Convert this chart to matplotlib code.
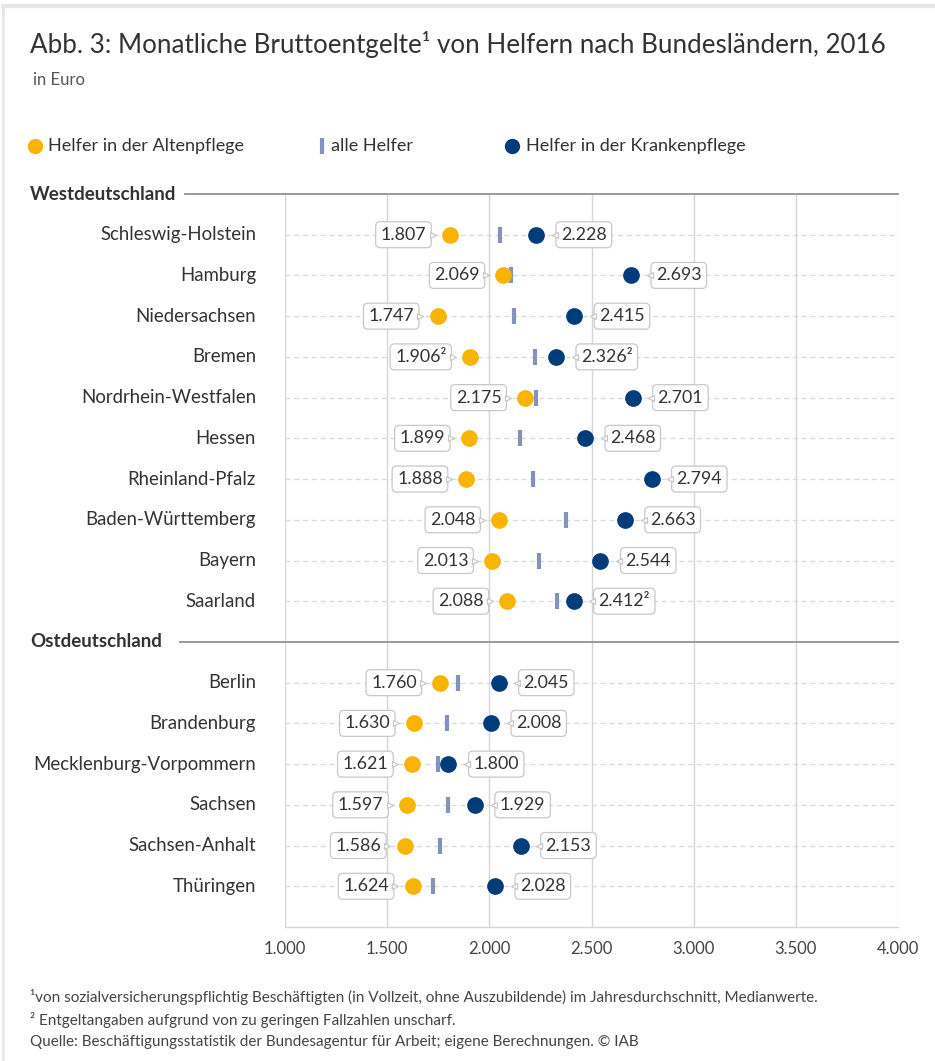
import matplotlib
matplotlib.use("Agg")
import matplotlib.pyplot as plt
from matplotlib.lines import Line2D
from matplotlib.transforms import offset_copy

plt.rcParams['font.family'] = ['Lato', 'DejaVu Sans']

# ---------------- data ----------------
west = ["Schleswig-Holstein", "Hamburg", "Niedersachsen", "Bremen", "Nordrhein-Westfalen",
        "Hessen", "Rheinland-Pfalz", "Baden-Württemberg", "Bayern", "Saarland"]
east = ["Berlin", "Brandenburg", "Mecklenburg-Vorpommern", "Sachsen", "Sachsen-Anhalt", "Thüringen"]

alten_west = [1807, 2069, 1747, 1906, 2175, 1899, 1888, 2048, 2013, 2088]
alten_east = [1760, 1630, 1621, 1597, 1586, 1624]
kranken_west = [2228, 2693, 2415, 2326, 2701, 2468, 2794, 2663, 2544, 2412]
kranken_east = [2045, 2008, 1800, 1929, 2153, 2028]
alle_west = [2054, 2108, 2122, 2225, 2230, 2152, 2216, 2373, 2245, 2333]
alle_east = [1848, 1794, 1750, 1799, 1760, 1725]

# footnote 2 markers (unsharp values)
alten_unscharf = ["Bremen"]
kranken_unscharf = ["Bremen", "Saarland"]

xticks = [1000, 1500, 2000, 2500, 3000, 3500, 4000]
xticklabels = ["1.000", "1.500", "2.000", "2.500", "3.000", "3.500", "4.000"]

# ---------------- styling ----------------
W, H = 935, 1061
YELLOW = "#F8B400"
BLUE = "#003B7A"
BAR = "#8592BE"
TXT = "#333333"
GRID = "#d6d6d6"

def fx(x): return x / W
def fy(y): return 1 - y / H

fig = plt.figure(figsize=(W / 100, H / 100), dpi=100)
fig.patch.set_facecolor("white")

# thin frame lines (top and left)
fig.add_artist(Line2D([fx(3), fx(935)], [fy(6), fy(6)], color="#e6e6e6", lw=3, transform=fig.transFigure))
fig.add_artist(Line2D([fx(3), fx(3)], [fy(6), fy(1061)], color="#e6e6e6", lw=2, transform=fig.transFigure))

# title and subtitle
fig.text(fx(30), fy(45), "Abb. 3: Monatliche Bruttoentgelte¹ von Helfern nach Bundesländern, 2016",
         fontsize=18.7, color=TXT, va="center", ha="left")
fig.text(fx(33), fy(80), "in Euro", fontsize=12, color="#555555", va="center", ha="left")

# legend
ly = fy(146)
fig.add_artist(Line2D([fx(35)], [ly], marker="o", ms=10, color=YELLOW, mec=YELLOW, transform=fig.transFigure))
fig.text(fx(48), ly, "Helfer in der Altenpflege", fontsize=13, color=TXT, va="center")
fig.add_artist(Line2D([fx(322)], [ly], marker="|", ms=12, mew=3, color=BAR, transform=fig.transFigure))
fig.text(fx(331), ly, "alle Helfer", fontsize=13, color=TXT, va="center")
fig.add_artist(Line2D([fx(512)], [ly], marker="o", ms=10, color=BLUE, mec=BLUE, transform=fig.transFigure))
fig.text(fx(526), ly, "Helfer in der Krankenpflege", fontsize=13, color=TXT, va="center")

# axes
left, right, top, bottom = 285, 898, 194, 927
ax = fig.add_axes([fx(left), fy(bottom), (right - left) / W, (bottom - top) / H])
ax.set_xlim(1000, 4000)

rows = []  # (name, alten, kranken, alle, ypos, unscharf_a, unscharf_k)
y = 1
for i, n in enumerate(west):
    rows.append((n, alten_west[i], kranken_west[i], alle_west[i], y, n in alten_unscharf, n in kranken_unscharf))
    y += 1
y_east_header = y
y += 1
for i, n in enumerate(east):
    rows.append((n, alten_east[i], kranken_east[i], alle_east[i], y, False, False))
    y += 1
ax.set_ylim(y, 0)

for s in ["top", "right", "left"]:
    ax.spines[s].set_visible(False)
ax.spines["bottom"].set_color(GRID)
ax.spines["bottom"].set_linewidth(1)
ax.set_xticks(xticks)
ax.set_xticklabels(xticklabels, fontsize=12, color="#444444")
ax.tick_params(axis="x", length=0, pad=10)
ax.set_yticks([])
for xt in xticks:
    ax.axvline(xt, color=GRID, lw=1, zorder=0)

# header lines + texts
hdr_tr = ax.get_yaxis_transform()
for yy, label, x0 in [(0, "Westdeutschland", 185), (y_east_header, "Ostdeutschland", 180)]:
    ax.plot([(x0 - left) / (right - left), 1], [yy, yy], color="#9a9a9a", lw=1.4,
            transform=hdr_tr, clip_on=False, zorder=1)
    ax.text((30 - left) / (right - left), yy, label, transform=hdr_tr, fontsize=13.5,
            fontweight="bold", color=TXT, ha="left", va="center")

def fmt(v, sup):
    s = f"{v:,}".replace(",", ".")
    return s + "²" if sup else s

bbox = dict(boxstyle="round,pad=0.28,rounding_size=0.25", fc="white", ec="#c8c8c8", lw=0.9)
left_ptr = offset_copy(ax.transData, fig=fig, x=-12.5, y=0, units="points")
right_ptr = offset_copy(ax.transData, fig=fig, x=13.5, y=0, units="points")

for name, a, k, al, yy, sa, sk in rows:
    ax.axhline(yy, color="#d9d9d9", lw=0.9, ls=(0, (4, 3)), zorder=0)
    ax.text((256 - left) / (right - left), yy, name, transform=hdr_tr, fontsize=13.4,
            color=TXT, ha="right", va="center")
    ax.plot([al], [yy], marker="|", ms=12, mew=3, color=BAR, zorder=3)
    ax.plot([a], [yy], marker="o", ms=11, color=YELLOW, mec=YELLOW, zorder=4)
    ax.plot([k], [yy], marker="o", ms=11, color=BLUE, mec=BLUE, zorder=4)
    ax.annotate(fmt(a, sa), xy=(a, yy), xytext=(-17, 0), textcoords="offset points",
                ha="right", va="center", fontsize=12.8, color=TXT, bbox=bbox, zorder=5)
    ax.annotate(fmt(k, sk), xy=(k, yy), xytext=(18, 0), textcoords="offset points",
                ha="left", va="center", fontsize=12.8, color=TXT, bbox=bbox, zorder=5)
    ax.plot([a], [yy], marker=">", ms=5, mfc="white", mec="#c8c8c8", mew=0.9,
            transform=left_ptr, zorder=6)
    ax.plot([k], [yy], marker="<", ms=5, mfc="white", mec="#c8c8c8", mew=0.9,
            transform=right_ptr, zorder=6)

# footnotes
fn_size = 11
fig.text(fx(30), fy(997), "¹von sozialversicherungspflichtig Beschäftigten (in Vollzeit, ohne Auszubildende) im Jahresdurchschnitt, Medianwerte.",
         fontsize=fn_size, color="#444444", va="center")
fig.text(fx(30), fy(1020), "² Entgeltangaben aufgrund von zu geringen Fallzahlen unscharf.",
         fontsize=fn_size, color="#444444", va="center")
fig.text(fx(30), fy(1042), "Quelle: Beschäftigungsstatistik der Bundesagentur für Arbeit; eigene Berechnungen. © IAB",
         fontsize=fn_size, color="#444444", va="center")

fig.savefig("out.png", dpi=100, facecolor="white")
